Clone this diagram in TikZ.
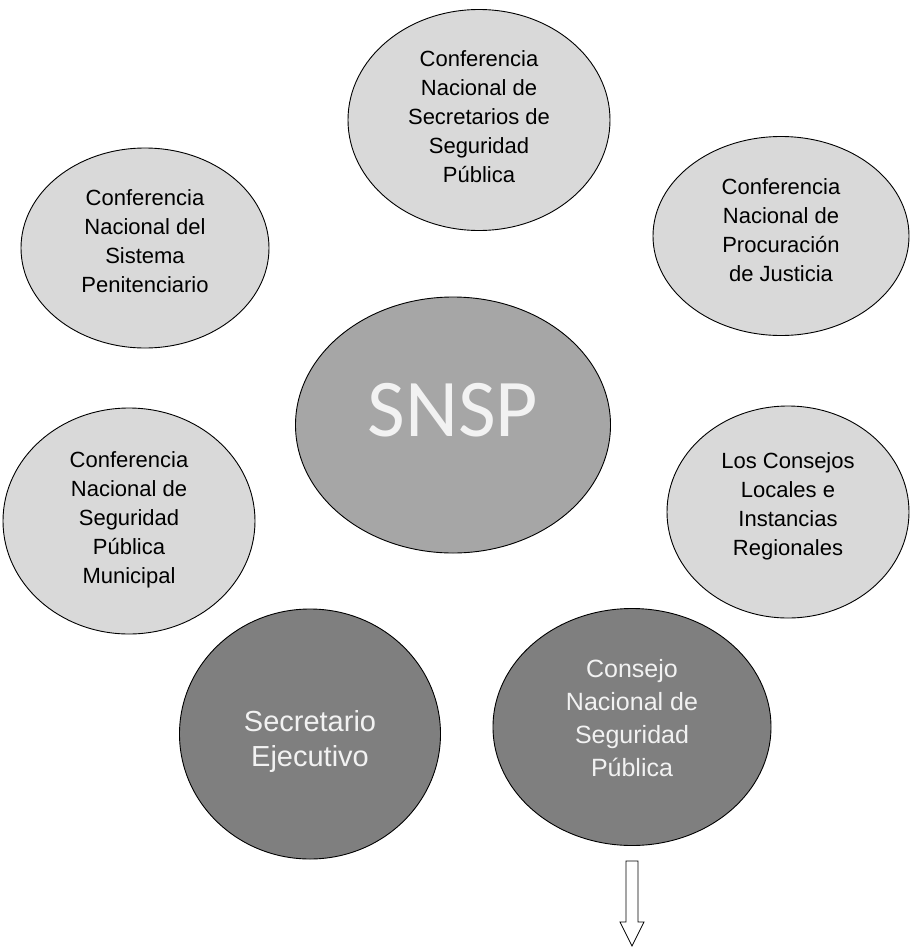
\documentclass[tikz,border=0pt]{standalone}
\usepackage{fontspec}
\setmainfont{Liberation Sans}
\newfontfamily\snspfont{Carlito}
\usetikzlibrary{shapes.geometric}
\definecolor{lightfill}{HTML}{D9D9D9}
\definecolor{midfill}{HTML}{A6A6A6}
\definecolor{darkfill}{HTML}{7F7F7F}
\definecolor{lighttext}{HTML}{F2F2F2}
\newcommand{\liftbox}[2]{\raisebox{#1}[\height][\depth]{\begin{tabular}{@{}c@{}}#2\end{tabular}}}
\begin{document}
\begin{tikzpicture}[x=1pt,y=-1pt,
  bubble/.style={ellipse, draw=black, line width=0.9pt, inner sep=0pt, align=center},
  lightbubble/.style={bubble, fill=lightfill, text=black, font=\fontsize{22}{29}\selectfont},
  darkbubble/.style={bubble, fill=darkfill, text=lighttext},
  hollowarrow/.style={draw=black, line width=0.8pt, fill=white, line join=miter}
]
\useasboundingbox (0,0) rectangle (912,948);

\node[lightbubble, minimum width=262pt, minimum height=221pt] (secretarios) at (479,120)
  {\liftbox{1pt}{Conferencia\\Nacional de\\Secretarios de\\Seguridad\\Pública}};
\node[lightbubble, minimum width=248pt, minimum height=200pt] (penitenciario) at (145,248)
  {\liftbox{5pt}{Conferencia\\Nacional del\\Sistema\\Penitenciario}};
\node[lightbubble, minimum width=256pt, minimum height=199pt] (procuracion) at (781,236)
  {\liftbox{4pt}{Conferencia\\Nacional de\\Procuración\\de Justicia}};
\node[bubble, fill=midfill, text=lighttext, minimum width=315pt, minimum height=256pt,
  font=\snspfont\fontsize{82}{90}\selectfont] (snsp) at (453,425) {\liftbox{7pt}{SNSP}};
\node[lightbubble, minimum width=252pt, minimum height=226pt] (municipal) at (129,521)
  {\liftbox{1pt}{Conferencia\\Nacional de\\Seguridad\\Pública\\Municipal}};
\node[lightbubble, minimum width=242pt, minimum height=212pt] (locales) at (788,512)
  {\liftbox{6pt}{Los Consejos\\Locales e\\Instancias\\Regionales}};
\node[darkbubble, minimum width=261pt, minimum height=250pt,
  font=\fontsize{29}{35}\selectfont] (ejecutivo) at (310,734)
  {\liftbox{-8pt}{Secretario\\Ejecutivo}};
\node[darkbubble, minimum width=278pt, minimum height=237pt,
  font=\fontsize{25}{33}\selectfont] (consejo) at (632,727)
  {\liftbox{7pt}{Consejo\\Nacional de\\Seguridad\\Pública}};

\coordinate (arrowtop) at (632,861);
\draw[hollowarrow] ([xshift=-6pt]arrowtop) -- ([xshift=6pt]arrowtop)
  -- ++(0,61) -- ++(6,0) -- (632,946) -- (620,922) -- (626,922) -- cycle;
\end{tikzpicture}
\end{document}
